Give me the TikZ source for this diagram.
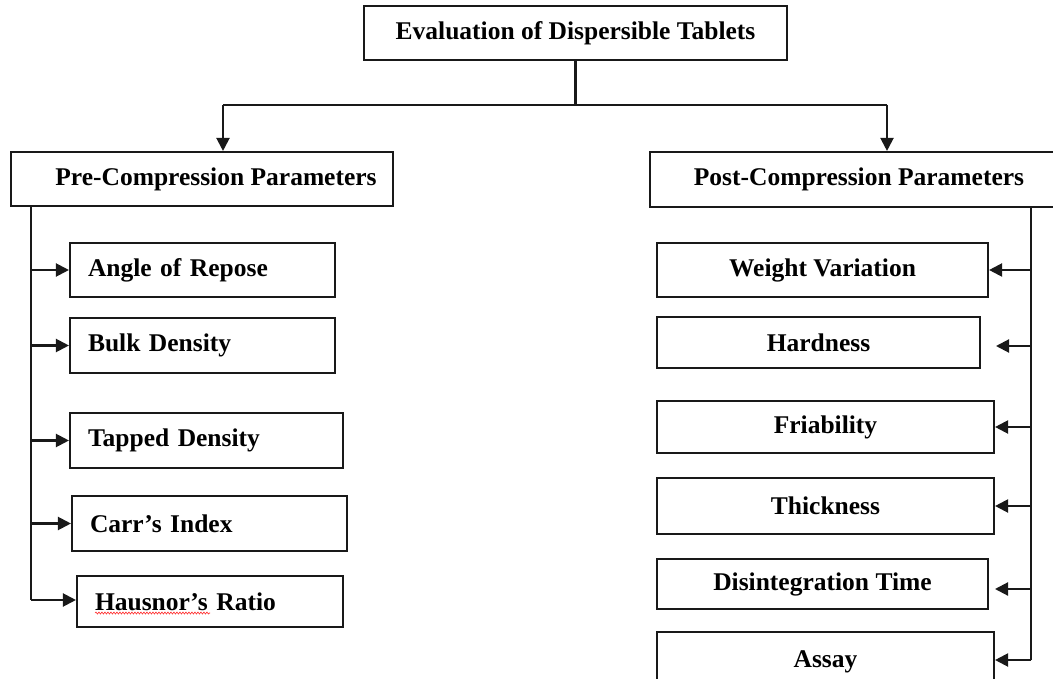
\documentclass[tikz,border=0pt]{standalone}
\usepackage{fontspec}
\setmainfont{Liberation Serif}
\usetikzlibrary{arrows.meta,decorations.pathmorphing}
\begin{document}
\begin{tikzpicture}[x=1pt,y=-1pt,
  line width=2.1pt, draw=black!90,
  bx/.style={draw=black!90, line width=2.1pt, rectangle, inner ysep=0pt,
     font=\fontsize{25.5}{29}\selectfont\bfseries},
  lbx/.style={bx, align=left, inner xsep=18pt},
  cbx/.style={bx, align=center, inner xsep=0pt},
  arr/.style={-{Triangle[length=13pt,width=13pt]}, line width=2.1pt, draw=black!90, fill=black!90}]
\newcommand\mybox[7]{%
  \node[#6, minimum width={#4-#2}, minimum height={#5-#3}] (#1) at ({(#2+#4)/2},{(#3+#5)/2}) {#7};}
\newcommand\mylbox[7]{%
  \node[#6, minimum width={#4-#2}, minimum height={#5-#3}, text width={#4-#2-36}] (#1) at ({(#2+#4)/2},{(#3+#5)/2}) {#7};}
\useasboundingbox (0,0) rectangle (1053,679);
\clip (0,0) rectangle (1053,679);
\fill[white] (0,0) rectangle (1053,679);

\mybox{top}{364}{6}{787}{60}{cbx}{Evaluation of Dispersible Tablets}
\mybox{pre}{11}{152}{393}{206}{cbx}{\hspace*{28pt}Pre-Compression Parameters}
\mybox{post}{650}{152}{1068}{207}{cbx}{Post-Compression Parameters}

\mylbox{ar}{70}{243}{335}{297}{lbx}{Angle of Repose}
\mylbox{bd}{70}{318}{335}{373}{lbx}{Bulk Density}
\mylbox{td}{70}{413}{343}{468}{lbx}{Tapped Density}
\mylbox{ci}{72}{496}{347}{551}{lbx}{Carr’s Index}
\mylbox{hr}{77}{576}{343}{627}{lbx}{Hausnor’s Ratio}

\mybox{wv}{657}{243}{988}{297}{cbx}{Weight Variation}
\mybox{hd}{657}{317}{980}{368}{cbx}{Hardness}
\mybox{fr}{657}{401}{994}{453}{cbx}{Friability}
\mybox{th}{657}{478}{994}{534}{cbx}{Thickness}
\mybox{dt}{657}{559}{988}{609}{cbx}{Disintegration Time}
\mybox{as}{657}{632}{994}{692}{cbx}{Assay}

% spell-check squiggle
\draw[red!85, line width=0.6pt, decorate, decoration={snake, amplitude=1pt, segment length=3pt}] (95,613) -- (210,613);

% top connectors
\coordinate (jl) at (223,105);
\coordinate (jr) at (887,105);
\draw (top.south) -- (top.south |- jl);
\draw (jl) -- (jr);
\draw[arr] (jl) -- (jl |- pre.north);
\draw[arr] (jr) -- (jr |- post.north);

% left spine
\coordinate (ltop) at (31,206);
\coordinate (lbot) at (31,600);
\draw (ltop) -- (lbot);
\draw[arr] (ltop |- ar.west) -- (ar.west);
\draw[arr] (ltop |- bd.west) -- (bd.west);
\draw[arr] (ltop |- td.west) -- (td.west);
\draw[arr] (ltop |- ci.west) -- (ci.west);
\draw[arr] (lbot) -- (lbot -| hr.west);

% right spine
\coordinate (rtop) at (1031,207);
\coordinate (rbot) at (1031,660);
\coordinate (hdt) at (996,346);
\coordinate (dtt) at (995,589);
\draw (rtop) -- (rbot);
\draw[arr] (rtop |- wv.east) -- (wv.east);
\draw[arr] (rtop |- hdt) -- (hdt);
\draw[arr] (rtop |- fr.east) -- (fr.east);
\draw[arr] (rtop |- th.east) -- (th.east);
\draw[arr] (rtop |- dtt) -- (dtt);
\draw[arr] (rbot) -- (rbot -| as.east);
\end{tikzpicture}
\end{document}
